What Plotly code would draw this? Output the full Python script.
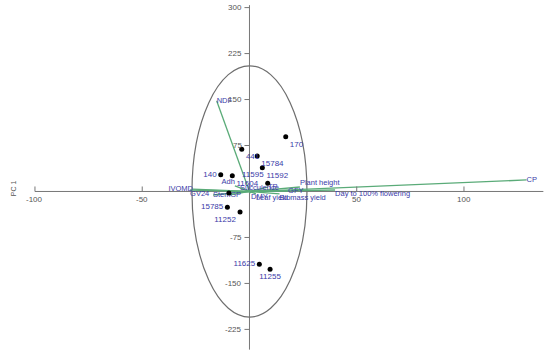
import plotly.graph_objects as go

# genotype scores
genotypes = ['170', '441', '15784', '11592', '11595', '140', '11604',
             '15785', '11252', '11625', '11255', '']
geno_x = [16.9, -3.6, 3.6, 6.0, 8.5, -13.4, -8.0, -10.3, -4.4, 4.6, 9.6, -9.6]
geno_y = [89.4, 68.8, 57.9, 38.8, 13.4, 27.4, 25.8, -25.8, -33.4, -118.8, -126.9, -2.4]
geno_pos = ['bottom right', 'bottom right', 'bottom right', 'bottom right', 'top left',
            'middle left', 'bottom right', 'middle left', 'bottom left', 'middle left',
            'bottom center', 'middle right']

# trait loadings (vector tips)
traits = ['NDF', 'CP', 'Plant height', 'Day to 100% flowering', 'IVOMD', 'GV24',
          'Adh', 'Succulence', 'Stem', 'GP', 'TP', 'DMY', 'Leaf yield',
          'Biomass yield', 'GFY']
trait_x = [-15.3, 129.2, 23.5, 39.9, -26.3, -27.7, -6.8, -4.4, -17.0, -9.0,
           8.6, 0.7, 3.0, 14.0, 18.0]
trait_y = [148.0, 18.8, 7.3, 2.4, 4.0, 2.4, 9.0, 5.7, -5.7, -5.7, 7.3,
           -2.4, -4.0, -4.0, 1.0]
trait_pos = ['middle right', 'middle right', 'top right', 'bottom right', 'middle left',
             'bottom right', 'top left', 'middle right', 'middle right', 'middle right',
             'middle right', 'bottom right', 'bottom right', 'bottom right', 'middle right']

x_ticks = [-100, -50, 50, 100]
y_ticks = [300, 225, 150, 75, -75, -150, -225]
x_span = [-100, 137]
y_span = [-258, 304]
ellipse_a, ellipse_b = 26.8, 205

blue = '#3a3aa8'
green = '#5aab78'
axis_col = '#777777'
font = 'Liberation Sans Narrow, Liberation Sans, Arial'

fig = go.Figure()

for tx, ty in zip(trait_x, trait_y):
    fig.add_trace(go.Scatter(x=[0, tx], y=[0, ty], mode='lines',
                             line=dict(color=green, width=1.3),
                             hoverinfo='skip', showlegend=False))

fig.add_trace(go.Scatter(x=trait_x, y=trait_y, mode='text', text=traits,
                         textposition=trait_pos,
                         textfont=dict(color=blue, size=7.5, family=font),
                         showlegend=False))

fig.add_trace(go.Scatter(x=geno_x, y=geno_y, mode='markers+text', text=genotypes,
                         textposition=geno_pos,
                         marker=dict(color='black', size=5),
                         textfont=dict(color=blue, size=8, family=font),
                         showlegend=False))

# axes through the origin
fig.add_shape(type='line', x0=x_span[0], x1=x_span[1], y0=0, y1=0,
              line=dict(color=axis_col, width=1), layer='below')
fig.add_shape(type='line', x0=0, x1=0, y0=y_span[0], y1=y_span[1],
              line=dict(color=axis_col, width=1), layer='below')
fig.add_shape(type='circle', x0=-ellipse_a, x1=ellipse_a, y0=-ellipse_b, y1=ellipse_b,
              line=dict(color='#6e6e6e', width=1.2), layer='below')

for t in x_ticks:
    fig.add_shape(type='line', xref='x', yref='y', ysizemode='pixel', yanchor=0,
                  x0=t, x1=t, y0=0, y1=5, line=dict(color=axis_col, width=1))
    fig.add_annotation(x=t, y=0, text=str(t), showarrow=False, yanchor='top',
                       yshift=-2, font=dict(size=8, color='#555', family=font))
for t in y_ticks:
    fig.add_shape(type='line', xref='x', yref='y', xsizemode='pixel', xanchor=0,
                  x0=-5, x1=0, y0=t, y1=t, line=dict(color=axis_col, width=1))
    fig.add_annotation(x=0, y=t, text=str(t), showarrow=False, xanchor='right',
                       xshift=-5, font=dict(size=8, color='#555', family=font))

fig.add_annotation(xref='paper', yref='y', x=0.015, y=5, text='PC 1', textangle=-90,
                   showarrow=False, font=dict(size=7, color='#555', family=font))

fig.update_layout(
    width=550, height=356,
    margin=dict(l=0, r=0, t=0, b=0),
    paper_bgcolor='white', plot_bgcolor='white',
    xaxis=dict(range=[-116.3, 140.1], visible=False),
    yaxis=dict(range=[-268.4, 312.4], visible=False),
)
fig.write_html('out.html', config={'displayModeBar': False},
               post_script="document.body.style.margin='0';")
